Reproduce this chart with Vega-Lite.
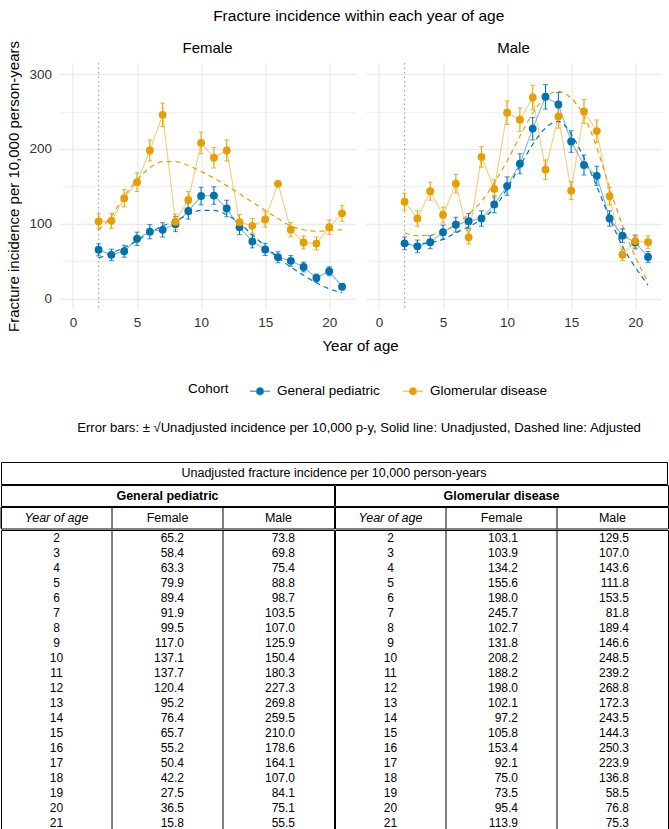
{
  "$schema": "https://vega.github.io/schema/vega-lite/v6.json",
  "background": "white",
  "padding": {"left": 0, "top": 9, "right": 0, "bottom": 0},
  "config": {
    "font": "Liberation Sans",
    "view": {"stroke": null},
    "title": {"font": "Liberation Sans"},
    "axis": {"labelFont": "Liberation Sans", "titleFont": "Liberation Sans"},
    "header": {"labelFont": "Liberation Sans", "titleFont": "Liberation Sans"},
    "legend": {"labelFont": "Liberation Sans", "titleFont": "Liberation Sans"}
  },
  "datasets": {
    "inc": [
      {"Year": 2, "Sex": "Female", "Cohort": "General pediatric", "Unadjusted": 65.2, "Low": 57.1, "High": 73.3, "Adjusted": 54},
      {"Year": 3, "Sex": "Female", "Cohort": "General pediatric", "Unadjusted": 58.4, "Low": 50.8, "High": 66.0, "Adjusted": 61},
      {"Year": 4, "Sex": "Female", "Cohort": "General pediatric", "Unadjusted": 63.3, "Low": 55.3, "High": 71.3, "Adjusted": 68},
      {"Year": 5, "Sex": "Female", "Cohort": "General pediatric", "Unadjusted": 79.9, "Low": 71.0, "High": 88.8, "Adjusted": 77},
      {"Year": 6, "Sex": "Female", "Cohort": "General pediatric", "Unadjusted": 89.4, "Low": 79.9, "High": 98.9, "Adjusted": 88},
      {"Year": 7, "Sex": "Female", "Cohort": "General pediatric", "Unadjusted": 91.9, "Low": 82.3, "High": 101.5, "Adjusted": 97},
      {"Year": 8, "Sex": "Female", "Cohort": "General pediatric", "Unadjusted": 99.5, "Low": 89.5, "High": 109.5, "Adjusted": 104},
      {"Year": 9, "Sex": "Female", "Cohort": "General pediatric", "Unadjusted": 117.0, "Low": 106.2, "High": 127.8, "Adjusted": 112},
      {"Year": 10, "Sex": "Female", "Cohort": "General pediatric", "Unadjusted": 137.1, "Low": 125.4, "High": 148.8, "Adjusted": 118},
      {"Year": 11, "Sex": "Female", "Cohort": "General pediatric", "Unadjusted": 137.7, "Low": 126.0, "High": 149.4, "Adjusted": 118},
      {"Year": 12, "Sex": "Female", "Cohort": "General pediatric", "Unadjusted": 120.4, "Low": 109.4, "High": 131.4, "Adjusted": 112},
      {"Year": 13, "Sex": "Female", "Cohort": "General pediatric", "Unadjusted": 95.2, "Low": 85.4, "High": 105.0, "Adjusted": 101},
      {"Year": 14, "Sex": "Female", "Cohort": "General pediatric", "Unadjusted": 76.4, "Low": 67.7, "High": 85.1, "Adjusted": 85},
      {"Year": 15, "Sex": "Female", "Cohort": "General pediatric", "Unadjusted": 65.7, "Low": 57.6, "High": 73.8, "Adjusted": 70},
      {"Year": 16, "Sex": "Female", "Cohort": "General pediatric", "Unadjusted": 55.2, "Low": 47.8, "High": 62.6, "Adjusted": 55},
      {"Year": 17, "Sex": "Female", "Cohort": "General pediatric", "Unadjusted": 50.4, "Low": 43.3, "High": 57.5, "Adjusted": 42},
      {"Year": 18, "Sex": "Female", "Cohort": "General pediatric", "Unadjusted": 42.2, "Low": 35.7, "High": 48.7, "Adjusted": 31},
      {"Year": 19, "Sex": "Female", "Cohort": "General pediatric", "Unadjusted": 27.5, "Low": 22.3, "High": 32.7, "Adjusted": 21},
      {"Year": 20, "Sex": "Female", "Cohort": "General pediatric", "Unadjusted": 36.5, "Low": 30.5, "High": 42.5, "Adjusted": 13},
      {"Year": 21, "Sex": "Female", "Cohort": "General pediatric", "Unadjusted": 15.8, "Low": 11.8, "High": 19.8, "Adjusted": 8},
      {"Year": 2, "Sex": "Female", "Cohort": "Glomerular disease", "Unadjusted": 103.1, "Low": 93.0, "High": 113.3, "Adjusted": 92},
      {"Year": 3, "Sex": "Female", "Cohort": "Glomerular disease", "Unadjusted": 103.9, "Low": 93.7, "High": 114.1, "Adjusted": 110},
      {"Year": 4, "Sex": "Female", "Cohort": "Glomerular disease", "Unadjusted": 134.2, "Low": 122.6, "High": 145.8, "Adjusted": 137},
      {"Year": 5, "Sex": "Female", "Cohort": "Glomerular disease", "Unadjusted": 155.6, "Low": 143.1, "High": 168.1, "Adjusted": 158},
      {"Year": 6, "Sex": "Female", "Cohort": "Glomerular disease", "Unadjusted": 198.0, "Low": 183.9, "High": 212.1, "Adjusted": 175},
      {"Year": 7, "Sex": "Female", "Cohort": "Glomerular disease", "Unadjusted": 245.7, "Low": 230.0, "High": 261.4, "Adjusted": 183},
      {"Year": 8, "Sex": "Female", "Cohort": "Glomerular disease", "Unadjusted": 102.7, "Low": 92.6, "High": 112.8, "Adjusted": 183},
      {"Year": 9, "Sex": "Female", "Cohort": "Glomerular disease", "Unadjusted": 131.8, "Low": 120.3, "High": 143.3, "Adjusted": 178},
      {"Year": 10, "Sex": "Female", "Cohort": "Glomerular disease", "Unadjusted": 208.2, "Low": 193.8, "High": 222.6, "Adjusted": 170},
      {"Year": 11, "Sex": "Female", "Cohort": "Glomerular disease", "Unadjusted": 188.2, "Low": 174.5, "High": 201.9, "Adjusted": 161},
      {"Year": 12, "Sex": "Female", "Cohort": "Glomerular disease", "Unadjusted": 198.0, "Low": 183.9, "High": 212.1, "Adjusted": 151},
      {"Year": 13, "Sex": "Female", "Cohort": "Glomerular disease", "Unadjusted": 102.1, "Low": 92.0, "High": 112.2, "Adjusted": 140},
      {"Year": 14, "Sex": "Female", "Cohort": "Glomerular disease", "Unadjusted": 97.2, "Low": 87.3, "High": 107.1, "Adjusted": 129},
      {"Year": 15, "Sex": "Female", "Cohort": "Glomerular disease", "Unadjusted": 105.8, "Low": 95.5, "High": 116.1, "Adjusted": 118},
      {"Year": 16, "Sex": "Female", "Cohort": "Glomerular disease", "Unadjusted": 153.4, "Low": null, "High": null, "Adjusted": 107},
      {"Year": 17, "Sex": "Female", "Cohort": "Glomerular disease", "Unadjusted": 92.1, "Low": 82.5, "High": 101.7, "Adjusted": 97},
      {"Year": 18, "Sex": "Female", "Cohort": "Glomerular disease", "Unadjusted": 75.0, "Low": 66.3, "High": 83.7, "Adjusted": 92},
      {"Year": 19, "Sex": "Female", "Cohort": "Glomerular disease", "Unadjusted": 73.5, "Low": 64.9, "High": 82.1, "Adjusted": 90},
      {"Year": 20, "Sex": "Female", "Cohort": "Glomerular disease", "Unadjusted": 95.4, "Low": 85.6, "High": 105.2, "Adjusted": 91},
      {"Year": 21, "Sex": "Female", "Cohort": "Glomerular disease", "Unadjusted": 113.9, "Low": 103.2, "High": 124.6, "Adjusted": 92},
      {"Year": 2, "Sex": "Male", "Cohort": "General pediatric", "Unadjusted": 73.8, "Low": 65.2, "High": 82.4, "Adjusted": 72},
      {"Year": 3, "Sex": "Male", "Cohort": "General pediatric", "Unadjusted": 69.8, "Low": 61.4, "High": 78.2, "Adjusted": 73},
      {"Year": 4, "Sex": "Male", "Cohort": "General pediatric", "Unadjusted": 75.4, "Low": 66.7, "High": 84.1, "Adjusted": 75},
      {"Year": 5, "Sex": "Male", "Cohort": "General pediatric", "Unadjusted": 88.8, "Low": 79.4, "High": 98.2, "Adjusted": 79},
      {"Year": 6, "Sex": "Male", "Cohort": "General pediatric", "Unadjusted": 98.7, "Low": 88.8, "High": 108.6, "Adjusted": 88},
      {"Year": 7, "Sex": "Male", "Cohort": "General pediatric", "Unadjusted": 103.5, "Low": 93.3, "High": 113.7, "Adjusted": 96},
      {"Year": 8, "Sex": "Male", "Cohort": "General pediatric", "Unadjusted": 107.0, "Low": 96.7, "High": 117.3, "Adjusted": 106},
      {"Year": 9, "Sex": "Male", "Cohort": "General pediatric", "Unadjusted": 125.9, "Low": 114.7, "High": 137.1, "Adjusted": 121},
      {"Year": 10, "Sex": "Male", "Cohort": "General pediatric", "Unadjusted": 150.4, "Low": 138.1, "High": 162.7, "Adjusted": 147},
      {"Year": 11, "Sex": "Male", "Cohort": "General pediatric", "Unadjusted": 180.3, "Low": 166.9, "High": 193.7, "Adjusted": 177},
      {"Year": 12, "Sex": "Male", "Cohort": "General pediatric", "Unadjusted": 227.3, "Low": 212.2, "High": 242.4, "Adjusted": 206},
      {"Year": 13, "Sex": "Male", "Cohort": "General pediatric", "Unadjusted": 269.8, "Low": 253.4, "High": 286.2, "Adjusted": 228},
      {"Year": 14, "Sex": "Male", "Cohort": "General pediatric", "Unadjusted": 259.5, "Low": 243.4, "High": 275.6, "Adjusted": 237},
      {"Year": 15, "Sex": "Male", "Cohort": "General pediatric", "Unadjusted": 210.0, "Low": 195.5, "High": 224.5, "Adjusted": 220},
      {"Year": 16, "Sex": "Male", "Cohort": "General pediatric", "Unadjusted": 178.6, "Low": 165.2, "High": 192.0, "Adjusted": 188},
      {"Year": 17, "Sex": "Male", "Cohort": "General pediatric", "Unadjusted": 164.1, "Low": 151.3, "High": 176.9, "Adjusted": 150},
      {"Year": 18, "Sex": "Male", "Cohort": "General pediatric", "Unadjusted": 107.0, "Low": 96.7, "High": 117.3, "Adjusted": 108},
      {"Year": 19, "Sex": "Male", "Cohort": "General pediatric", "Unadjusted": 84.1, "Low": 74.9, "High": 93.3, "Adjusted": 70},
      {"Year": 20, "Sex": "Male", "Cohort": "General pediatric", "Unadjusted": 75.1, "Low": 66.4, "High": 83.8, "Adjusted": 42},
      {"Year": 21, "Sex": "Male", "Cohort": "General pediatric", "Unadjusted": 55.5, "Low": 48.1, "High": 63.0, "Adjusted": 18},
      {"Year": 2, "Sex": "Male", "Cohort": "Glomerular disease", "Unadjusted": 129.5, "Low": 118.1, "High": 140.9, "Adjusted": 88},
      {"Year": 3, "Sex": "Male", "Cohort": "Glomerular disease", "Unadjusted": 107.0, "Low": 96.7, "High": 117.3, "Adjusted": 84},
      {"Year": 4, "Sex": "Male", "Cohort": "Glomerular disease", "Unadjusted": 143.6, "Low": 131.6, "High": 155.6, "Adjusted": 85},
      {"Year": 5, "Sex": "Male", "Cohort": "Glomerular disease", "Unadjusted": 111.8, "Low": 101.2, "High": 122.4, "Adjusted": 90},
      {"Year": 6, "Sex": "Male", "Cohort": "Glomerular disease", "Unadjusted": 153.5, "Low": 141.1, "High": 165.9, "Adjusted": 99},
      {"Year": 7, "Sex": "Male", "Cohort": "Glomerular disease", "Unadjusted": 81.8, "Low": 72.8, "High": 90.8, "Adjusted": 113},
      {"Year": 8, "Sex": "Male", "Cohort": "Glomerular disease", "Unadjusted": 189.4, "Low": 175.6, "High": 203.2, "Adjusted": 130},
      {"Year": 9, "Sex": "Male", "Cohort": "Glomerular disease", "Unadjusted": 146.6, "Low": 134.5, "High": 158.7, "Adjusted": 155},
      {"Year": 10, "Sex": "Male", "Cohort": "Glomerular disease", "Unadjusted": 248.5, "Low": 232.7, "High": 264.3, "Adjusted": 184},
      {"Year": 11, "Sex": "Male", "Cohort": "Glomerular disease", "Unadjusted": 239.2, "Low": 223.7, "High": 254.7, "Adjusted": 217},
      {"Year": 12, "Sex": "Male", "Cohort": "Glomerular disease", "Unadjusted": 268.8, "Low": 252.4, "High": 285.2, "Adjusted": 248},
      {"Year": 13, "Sex": "Male", "Cohort": "Glomerular disease", "Unadjusted": 172.3, "Low": 159.2, "High": 185.4, "Adjusted": 269},
      {"Year": 14, "Sex": "Male", "Cohort": "Glomerular disease", "Unadjusted": 243.5, "Low": 227.9, "High": 259.1, "Adjusted": 277},
      {"Year": 15, "Sex": "Male", "Cohort": "Glomerular disease", "Unadjusted": 144.3, "Low": 132.3, "High": 156.3, "Adjusted": 268},
      {"Year": 16, "Sex": "Male", "Cohort": "Glomerular disease", "Unadjusted": 250.3, "Low": 234.5, "High": 266.1, "Adjusted": 244},
      {"Year": 17, "Sex": "Male", "Cohort": "Glomerular disease", "Unadjusted": 223.9, "Low": 208.9, "High": 238.9, "Adjusted": 202},
      {"Year": 18, "Sex": "Male", "Cohort": "Glomerular disease", "Unadjusted": 136.8, "Low": 125.1, "High": 148.5, "Adjusted": 148},
      {"Year": 19, "Sex": "Male", "Cohort": "Glomerular disease", "Unadjusted": 58.5, "Low": 50.9, "High": 66.2, "Adjusted": 98},
      {"Year": 20, "Sex": "Male", "Cohort": "Glomerular disease", "Unadjusted": 76.8, "Low": 68.0, "High": 85.6, "Adjusted": 56},
      {"Year": 21, "Sex": "Male", "Cohort": "Glomerular disease", "Unadjusted": 75.3, "Low": 66.6, "High": 84.0, "Adjusted": 22}
    ]
  },
  "align": "each",
  "center": true,
  "spacing": 68,
  "vconcat": [
    {
      "data": {"name": "inc"},
      "title": {"text": "Fracture incidence within each year of age", "fontSize": 15.5, "fontWeight": "normal", "color": "black", "anchor": "middle", "offset": 15.7, "dx": 24.5},
      "facet": {
        "column": {
          "field": "Sex", "type": "nominal", "sort": ["Female", "Male"],
          "header": {"title": "Year of age", "titleOrient": "bottom", "titleFontSize": 15, "titleFontWeight": "normal", "titleColor": "black", "titlePadding": -0.5,
                     "labelOrient": "top", "labelFontSize": 15, "labelColor": "black", "labelPadding": 6}
        }
      },
      "spacing": 10,
      "spec": {
        "width": 296,
        "height": 246,
        "layer": [
          {
            "transform": [{"filter": "datum.Year === 2 && datum.Cohort === 'General pediatric'"}],
            "mark": {"type": "rule", "color": "#a8a8a8", "strokeDash": [1.5, 3], "strokeWidth": 1.2},
            "encoding": {
              "x": {"datum": 2, "type": "quantitative", "scale": {"domain": [-1.05, 22.05], "nice": false, "zero": false},
                    "axis": {"title": null, "values": [0, 2.5, 5, 7.5, 10, 12.5, 15, 17.5, 20], "labelExpr": "datum.value % 5 === 0 ? datum.label : ''",
                             "grid": true, "gridColor": "#ebebeb", "gridWidth": {"condition": {"test": "datum.value % 5 === 0", "value": 1.3}, "value": 0.7},
                             "domain": false, "ticks": false, "labelFontSize": 13.5, "labelColor": "#333333", "labelPadding": 5, "labelOverlap": false, "labelFlush": false}}
            }
          },
          {
            "mark": {"type": "line", "strokeWidth": 1.1, "opacity": 0.5},
            "encoding": {
              "x": {"field": "Year", "type": "quantitative"},
              "y": {"field": "Unadjusted", "type": "quantitative", "title": "Fracture incidence per 10,000 person-years",
                    "scale": {"domain": [-14, 315], "nice": false, "zero": false},
                    "axis": {"title": "Fracture incidence per 10,000 person-years", "values": [0, 50, 100, 150, 200, 250, 300], "labelExpr": "datum.value % 100 === 0 ? datum.label : ''",
                             "grid": true, "gridColor": "#ebebeb", "gridWidth": {"condition": {"test": "datum.value % 100 === 0", "value": 1.3}, "value": 0.7},
                             "domain": false, "ticks": false, "labelFontSize": 13.5, "labelColor": "#333333", "labelPadding": 8, "labelOverlap": false, "labelFlush": false,
                             "titleFontSize": 15, "titleFontWeight": "normal", "titleColor": "black", "titlePadding": 7}},
              "color": {"field": "Cohort", "type": "nominal",
                        "scale": {"domain": ["General pediatric", "Glomerular disease"], "range": ["#0072B2", "#E69F00"]},
                        "legend": {"title": "Cohort", "orient": "none", "legendX": 187, "legendY": 317, "direction": "horizontal",
                                   "titleOrient": "left", "titleAnchor": "middle", "titleBaseline": "middle", "titleFontSize": 13.5, "titleFontWeight": "normal", "titleColor": "black", "titlePadding": 20,
                                   "labelFontSize": 13.5, "labelColor": "black", "labelOffset": 6, "columnPadding": 20, "padding": 0,
                                   "symbolType": "M-1,0H1M-0.35,0A0.35,0.35,0,1,1,0.35,0A0.35,0.35,0,1,1,-0.35,0Z", "symbolSize": 400, "symbolStrokeWidth": 1.5, "symbolOpacity": 1,
                                   "encode": {"symbols": {"update": {"fill": {"scale": "color", "field": "value"}, "stroke": {"scale": "color", "field": "value"}, "opacity": {"value": 1}, "fillOpacity": {"value": 1}, "strokeOpacity": {"value": 0.6}}}}}}
            }
          },
          {
            "mark": {"type": "line", "strokeWidth": 1.2, "strokeDash": [5, 4], "interpolate": "monotone"},
            "encoding": {
              "x": {"field": "Year", "type": "quantitative"},
              "y": {"field": "Adjusted", "type": "quantitative", "title": "Fracture incidence per 10,000 person-years"},
              "color": {"field": "Cohort", "type": "nominal"}
            }
          },
          {
            "transform": [{"filter": "datum.Low != null"}],
            "mark": {"type": "errorbar", "ticks": {"size": 5}, "thickness": 1.1},
            "encoding": {
              "x": {"field": "Year", "type": "quantitative"},
              "y": {"field": "Low", "type": "quantitative", "title": "Fracture incidence per 10,000 person-years"},
              "y2": {"field": "High"},
              "color": {"field": "Cohort", "type": "nominal"}
            }
          },
          {
            "mark": {"type": "point", "filled": true, "size": 62, "opacity": 1},
            "encoding": {
              "x": {"field": "Year", "type": "quantitative"},
              "y": {"field": "Unadjusted", "type": "quantitative", "title": "Fracture incidence per 10,000 person-years"},
              "color": {"field": "Cohort", "type": "nominal"}
            }
          }
        ]
      }
    },
    {
      "title": {"text": "Error bars: \u00b1 \u221aUnadjusted incidence per 10,000 p-y, Solid line: Unadjusted, Dashed line: Adjusted",
                "orient": "top", "anchor": "middle", "fontSize": 13.1, "fontWeight": "normal", "color": "black", "offset": 26, "dx": -1},
      "spacing": -2,
      "vconcat": [
        {
          "data": {"values": [{"t": "Unadjusted fracture incidence per 10,000 person-years"}]},
          "title": {"text": " ", "orient": "right", "offset": 37.5, "fontSize": 15},
          "width": 666,
          "height": 22,
          "view": {"stroke": "black", "strokeWidth": 1},
          "mark": {"type": "text", "fontSize": 12.5, "color": "black"},
          "encoding": {"text": {"field": "t", "type": "nominal"}}
        },
        {
          "spacing": -2,
          "hconcat": [
            {
              "spacing": -2,
              "vconcat": [
                {
                  "data": {"values": [{"Cohort": "General pediatric"}]},
                  "width": 333, "height": 21,
                  "view": {"stroke": "black", "strokeWidth": 1},
                  "mark": {"type": "text", "fontSize": 12.5, "fontWeight": "bold", "color": "black"},
                  "encoding": {"text": {"field": "Cohort", "type": "nominal"}}
                },
                {
                  "data": {"values": [{"col": "Year of age"}, {"col": "Female"}, {"col": "Male"}]},
                  "width": 333, "height": 21.5,
                  "view": {"stroke": "black", "strokeWidth": 1},
                  "layer": [
                    {"mark": {"type": "rule", "color": "black", "strokeWidth": 1},
                     "encoding": {"x": {"field": "col", "type": "nominal", "bandPosition": 0, "scale": {"type": "band", "domain": ["Year of age", "Female", "Male"], "paddingInner": 0, "paddingOuter": 0}, "axis": null}}},
                    {"transform": [{"filter": "datum.col === 'Year of age'"}],
                     "mark": {"type": "text", "fontSize": 12.5, "fontStyle": "italic", "color": "black"},
                     "encoding": {"x": {"field": "col", "type": "nominal"}, "text": {"field": "col", "type": "nominal"}}},
                    {"transform": [{"filter": "datum.col !== 'Year of age'"}],
                     "mark": {"type": "text", "fontSize": 12.5, "color": "black"},
                     "encoding": {"x": {"field": "col", "type": "nominal"}, "text": {"field": "col", "type": "nominal"}}}
                  ]
                },
                {
                  "data": {"name": "inc"},
                  "transform": [{"filter": "datum.Cohort === 'General pediatric'"}],
                  "width": 333, "height": 301,
                  "view": {"stroke": "black", "strokeWidth": 1},
                  "layer": [
                    {"transform": [{"filter": "datum.Year === 2"}],
                     "mark": {"type": "rule", "color": "black", "strokeWidth": 1},
                     "encoding": {"x": {"field": "Sex", "type": "nominal", "bandPosition": 0, "scale": {"type": "band", "domain": ["Year of age", "Female", "Male"], "paddingInner": 0, "paddingOuter": 0}, "axis": null}}},
                    {"transform": [{"filter": "datum.Sex === 'Female'"}],
                     "mark": {"type": "text", "fontSize": 12, "color": "black"},
                     "encoding": {
                       "x": {"datum": "Year of age", "type": "nominal"},
                       "y": {"field": "Year", "type": "ordinal", "scale": {"type": "band", "domain": [2,3,4,5,6,7,8,9,10,11,12,13,14,15,16,17,18,19,20,21], "paddingInner": 0, "paddingOuter": 0}, "axis": null},
                       "text": {"field": "Year", "type": "nominal"}}},
                    {"mark": {"type": "text", "fontSize": 12, "color": "black", "align": "right", "dx": 16.5},
                     "encoding": {
                       "x": {"field": "Sex", "type": "nominal"},
                       "y": {"field": "Year", "type": "ordinal"},
                       "text": {"field": "Unadjusted", "type": "quantitative", "format": ".1f"}}}
                  ]
                }
              ]
            },
            {
              "spacing": -2,
              "vconcat": [
                {
                  "data": {"values": [{"Cohort": "Glomerular disease"}]},
                  "width": 333, "height": 21,
                  "view": {"stroke": "black", "strokeWidth": 1},
                  "mark": {"type": "text", "fontSize": 12.5, "fontWeight": "bold", "color": "black"},
                  "encoding": {"text": {"field": "Cohort", "type": "nominal"}}
                },
                {
                  "data": {"values": [{"col": "Year of age"}, {"col": "Female"}, {"col": "Male"}]},
                  "width": 333, "height": 21.5,
                  "view": {"stroke": "black", "strokeWidth": 1},
                  "layer": [
                    {"mark": {"type": "rule", "color": "black", "strokeWidth": 1},
                     "encoding": {"x": {"field": "col", "type": "nominal", "bandPosition": 0, "scale": {"type": "band", "domain": ["Year of age", "Female", "Male"], "paddingInner": 0, "paddingOuter": 0}, "axis": null}}},
                    {"transform": [{"filter": "datum.col === 'Year of age'"}],
                     "mark": {"type": "text", "fontSize": 12.5, "fontStyle": "italic", "color": "black"},
                     "encoding": {"x": {"field": "col", "type": "nominal"}, "text": {"field": "col", "type": "nominal"}}},
                    {"transform": [{"filter": "datum.col !== 'Year of age'"}],
                     "mark": {"type": "text", "fontSize": 12.5, "color": "black"},
                     "encoding": {"x": {"field": "col", "type": "nominal"}, "text": {"field": "col", "type": "nominal"}}}
                  ]
                },
                {
                  "data": {"name": "inc"},
                  "transform": [{"filter": "datum.Cohort === 'Glomerular disease'"}],
                  "width": 333, "height": 301,
                  "view": {"stroke": "black", "strokeWidth": 1},
                  "layer": [
                    {"transform": [{"filter": "datum.Year === 2"}],
                     "mark": {"type": "rule", "color": "black", "strokeWidth": 1},
                     "encoding": {"x": {"field": "Sex", "type": "nominal", "bandPosition": 0, "scale": {"type": "band", "domain": ["Year of age", "Female", "Male"], "paddingInner": 0, "paddingOuter": 0}, "axis": null}}},
                    {"transform": [{"filter": "datum.Sex === 'Female'"}],
                     "mark": {"type": "text", "fontSize": 12, "color": "black"},
                     "encoding": {
                       "x": {"datum": "Year of age", "type": "nominal"},
                       "y": {"field": "Year", "type": "ordinal", "scale": {"type": "band", "domain": [2,3,4,5,6,7,8,9,10,11,12,13,14,15,16,17,18,19,20,21], "paddingInner": 0, "paddingOuter": 0}, "axis": null},
                       "text": {"field": "Year", "type": "nominal"}}},
                    {"mark": {"type": "text", "fontSize": 12, "color": "black", "align": "right", "dx": 16.5},
                     "encoding": {
                       "x": {"field": "Sex", "type": "nominal"},
                       "y": {"field": "Year", "type": "ordinal"},
                       "text": {"field": "Unadjusted", "type": "quantitative", "format": ".1f"}}}
                  ]
                }
              ]
            }
          ]
        }
      ]
    }
  ]
}
